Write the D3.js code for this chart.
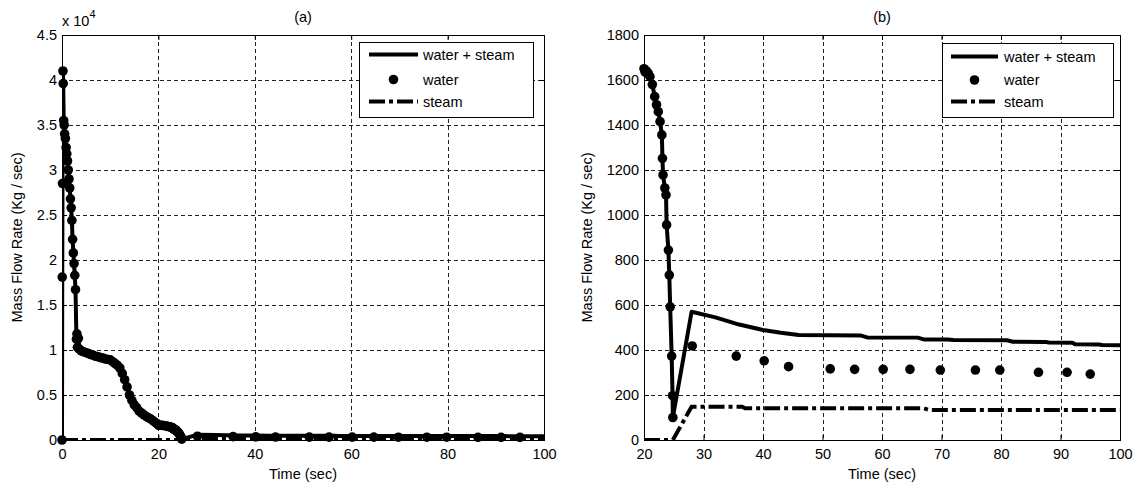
<!DOCTYPE html>
<html><head><meta charset="utf-8">
<script src="https://cdn.jsdelivr.net/npm/d3@7"></script>
<style>
body{margin:0;background:#fff;}
svg{display:block;font-family:"Liberation Sans",Arial,Helvetica,sans-serif;}
</style></head><body>
<svg id="chart" width="1138" height="488"></svg>
<script>
// Blowdown transient: water flow sampled densely during the first 25 s (water only, steam = 0)
const denseTime = [0, 0.05, 0.1, 0.2, 0.25, 0.35, 0.45, 0.55, 0.7, 0.85, 1.0, 1.15, 1.3, 1.45, 1.6, 1.75, 1.9, 2.05, 2.2, 2.35, 2.5, 2.65, 2.8,
  3.0, 3.1, 3.2, 3.4, 3.6, 4.0, 4.5, 5.0, 5.5, 6.0, 6.5, 7.0, 7.5, 8.0, 8.5, 9.0, 9.5, 10.0, 10.5, 11.0, 11.5, 12.0, 12.5, 13.0, 13.5,
  14.0, 14.5, 15.0, 15.5, 16.0, 16.5, 17.0, 17.5, 18.0, 18.5, 19.0, 19.5, 20.0, 20.2, 20.4, 20.7, 21.0, 21.4, 21.8, 22.1, 22.4, 22.7,
  23.0, 23.1, 23.2, 23.5, 23.7, 23.8, 24.1, 24.25, 24.4, 24.65, 24.8, 24.85];
const denseWater = [0, 18100, 28500, 41000, 39600, 35500, 35000, 34000, 33500, 32500, 31800, 31000, 30000, 29000, 28000, 26800, 25800, 24400, 22300, 20800, 19600, 18300, 16700,
  11200, 11800, 10300, 11300, 10100, 9900, 9800, 9700, 9600, 9500, 9400, 9300, 9250, 9150, 9100, 9000, 8950, 8900, 8700, 8500, 8300, 8000, 7400, 6700, 5900,
  5000, 4400, 3900, 3600, 3200, 3000, 2800, 2600, 2450, 2300, 2100, 1900, 1650, 1635, 1640, 1630, 1615, 1580, 1526, 1490, 1459, 1415,
  1356, 1252, 1178, 1120, 1089, 956, 844, 733, 592, 373, 197, 100];

// Water flow after the dip (kg/s)
const lateWaterTime = [28.1, 35.5, 40.2, 44.3, 51.3, 55.4, 60.2, 64.7, 69.8, 75.7, 79.8, 86.3, 91.1, 95.0];
const lateWater = [418, 373, 352, 326, 316, 314, 314, 314, 311, 311, 311, 301, 301, 293];

// Water + steam flow after the dip (kg/s)
const lateTotalTime = [28, 32, 36, 40, 43, 46, 56.5, 57.5, 66, 67, 71, 72, 81, 82, 87.5, 88, 92, 92.5, 96.5, 97, 100];
const lateTotal = [570, 545, 513, 489, 477, 467, 464, 456, 455, 447, 447, 444, 443, 437, 436, 433, 432, 425, 424, 422, 421];

// Steam flow (kg/s)
const steamTime = [0, 20, 24.85, 28, 36.5, 37, 67, 68, 100];
const steamFlow = [0, 0, 0, 148, 148, 141, 141, 133, 133];

// Axis ticks
const xTicksA = [0, 20, 40, 60, 80, 100];
const yTicksA = [0, 5000, 10000, 15000, 20000, 25000, 30000, 35000, 40000, 45000];
const xTicksB = [20, 30, 40, 50, 60, 70, 80, 90, 100];
const yTicksB = [0, 200, 400, 600, 800, 1000, 1200, 1400, 1600, 1800];

const panelTitles = ["(a)", "(b)"];
const legendLabels = ["water + steam", "water", "steam"];
const xLabel = "Time (sec)";
const yLabel = "Mass Flow Rate (Kg / sec)";

const zip = (t, v) => t.map((d, i) => ({t: d, v: v[i]}));
const totalSeries = zip(denseTime.concat(lateTotalTime), denseWater.concat(lateTotal));
const waterSeries = zip(denseTime.concat(lateWaterTime), denseWater.concat(lateWater));
const steamSeries = zip(steamTime, steamFlow);

const FONT = 14.5;
const MARKER_R = 4.8;
const LINE_W = 4;
const svg = d3.select("#chart");
const defs = svg.append("defs");

const panels = [
  {id: "a", left: 62, right: 544, top: 35, bottom: 440, xDomain: [0, 100], yDomain: [0, 45000],
   xTicks: xTicksA, yTicks: yTicksA, yFmt: v => d3.format("~g")(v / 1e4), exponent: "4",
   title: panelTitles[0], yLabelX: 22,
   legend: {x: 359, y: 42, w: 174, h: 75, x1: 369, x2: 418, tx: 423, rows: [54.5, 79.5, 101.5]}},
  {id: "b", left: 644, right: 1120, top: 35, bottom: 440, xDomain: [20, 100], yDomain: [0, 1800],
   xTicks: xTicksB, yTicks: yTicksB, yFmt: d3.format("d"), exponent: null,
   title: panelTitles[1], yLabelX: 592,
   legend: {x: 942, y: 43, w: 171, h: 74, x1: 951, x2: 998, tx: 1004, rows: [56.5, 80, 101.5]}}
];

const steamDash = "16,4,4,4";

panels.forEach(p => {
  const x = d3.scaleLinear().domain(p.xDomain).range([p.left, p.right]);
  const y = d3.scaleLinear().domain(p.yDomain).range([p.bottom, p.top]);
  const inRange = d => d.t >= p.xDomain[0] && d.t <= p.xDomain[1];
  const g = svg.append("g");

  defs.append("clipPath").attr("id", "clip-" + p.id)
    .append("rect").attr("x", p.left).attr("y", p.top)
    .attr("width", p.right - p.left).attr("height", p.bottom - p.top);

  // grid
  const grid = g.append("g").attr("stroke", "#222").attr("stroke-width", 1)
    .attr("stroke-dasharray", "4,3").attr("shape-rendering", "crispEdges");
  p.xTicks.filter(t => t > p.xDomain[0] && t < p.xDomain[1]).forEach(t => {
    grid.append("line").attr("x1", Math.round(x(t)) + 0.5).attr("x2", Math.round(x(t)) + 0.5)
      .attr("y1", p.top).attr("y2", p.bottom);
  });
  p.yTicks.filter(t => t > p.yDomain[0] && t < p.yDomain[1]).forEach(t => {
    grid.append("line").attr("y1", Math.round(y(t)) + 0.5).attr("y2", Math.round(y(t)) + 0.5)
      .attr("x1", p.left).attr("x2", p.right);
  });

  // axes with inward ticks on all four sides
  const axB = d3.axisBottom(x).tickValues(p.xTicks).tickSize(-5).tickPadding(9).tickFormat(d3.format("d"));
  const axT = d3.axisTop(x).tickValues(p.xTicks).tickSize(-5).tickFormat("");
  const axL = d3.axisLeft(y).tickValues(p.yTicks).tickSize(-5).tickPadding(5).tickFormat(p.yFmt);
  const axR = d3.axisRight(y).tickValues(p.yTicks).tickSize(-5).tickFormat("");
  [[axB, `translate(0,${p.bottom})`], [axT, `translate(0,${p.top})`],
   [axL, `translate(${p.left},0)`], [axR, `translate(${p.right},0)`]].forEach(([ax, tr]) => {
    const a = g.append("g").attr("transform", tr).call(ax);
    a.select(".domain").remove();
    a.selectAll("line").attr("stroke", "#000");
    a.selectAll("text").attr("fill", "#000").style("font-size", FONT + "px")
      .style("font-family", '"Liberation Sans", Arial, sans-serif');
  });

  // data
  const line = d3.line().x(d => x(d.t)).y(d => y(d.v));
  const data = g.append("g");
  const clipped = data.append("g").attr("clip-path", `url(#clip-${p.id})`);
  clipped.append("path").datum(steamSeries.filter(inRange)).attr("d", line).attr("fill", "none")
    .attr("stroke", "#000").attr("stroke-width", LINE_W).attr("stroke-dasharray", steamDash);
  clipped.append("path").datum(totalSeries.filter(inRange)).attr("d", line).attr("fill", "none")
    .attr("stroke", "#000").attr("stroke-width", LINE_W).attr("stroke-linejoin", "round");
  data.selectAll("circle").data(waterSeries.filter(inRange))
    .join("circle").attr("cx", d => x(d.t)).attr("cy", d => y(d.v)).attr("r", MARKER_R).attr("fill", "#000");

  // frame
  g.append("rect").attr("x", p.left + 0.5).attr("y", p.top + 0.5)
    .attr("width", p.right - p.left).attr("height", p.bottom - p.top)
    .attr("fill", "none").attr("stroke", "#000").attr("stroke-width", 1).attr("shape-rendering", "crispEdges");

  // labels
  const cx = (p.left + p.right) / 2;
  g.append("text").attr("x", cx).attr("y", 22).attr("text-anchor", "middle")
    .style("font-size", FONT + "px").text(p.title);
  g.append("text").attr("x", cx).attr("y", 479).attr("text-anchor", "middle")
    .style("font-size", FONT + "px").text(xLabel);
  g.append("text").attr("transform", `translate(${p.yLabelX},${(p.top + p.bottom) / 2}) rotate(-90)`)
    .attr("text-anchor", "middle").style("font-size", FONT + "px").text(yLabel);
  if (p.exponent) {
    const e = g.append("text").attr("x", p.left).attr("y", 26).style("font-size", FONT + "px");
    e.append("tspan").text("x 10");
    e.append("tspan").attr("dy", -8).style("font-size", "11px").text(p.exponent);
  }

  // legend
  const L = p.legend;
  const lg = g.append("g");
  lg.append("rect").attr("x", L.x + 0.5).attr("y", L.y + 0.5).attr("width", L.w).attr("height", L.h)
    .attr("fill", "#fff").attr("stroke", "#000").attr("stroke-width", 1).attr("shape-rendering", "crispEdges");
  lg.append("line").attr("x1", L.x1).attr("x2", L.x2).attr("y1", L.rows[0]).attr("y2", L.rows[0])
    .attr("stroke", "#000").attr("stroke-width", LINE_W);
  lg.append("circle").attr("cx", (L.x1 + L.x2) / 2).attr("cy", L.rows[1]).attr("r", MARKER_R).attr("fill", "#000");
  lg.append("line").attr("x1", L.x1).attr("x2", L.x2).attr("y1", L.rows[2]).attr("y2", L.rows[2])
    .attr("stroke", "#000").attr("stroke-width", LINE_W).attr("stroke-dasharray", steamDash);
  legendLabels.forEach((lab, i) => {
    lg.append("text").attr("x", L.tx).attr("y", L.rows[i] + 5).style("font-size", FONT + "px").text(lab);
  });
});
</script>
</body></html>
